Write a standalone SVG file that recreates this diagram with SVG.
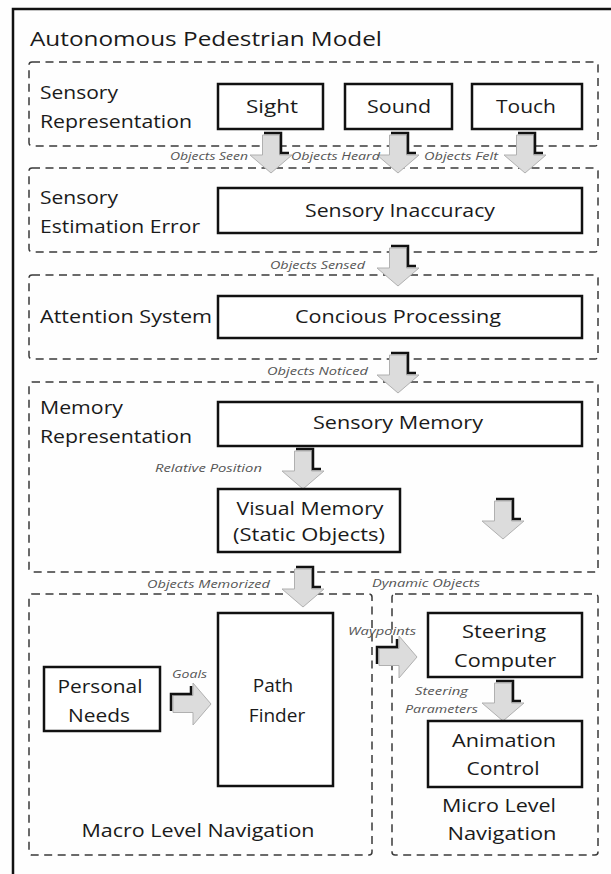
<svg xmlns="http://www.w3.org/2000/svg" xmlns:xlink="http://www.w3.org/1999/xlink" width="611" height="874" viewBox="0 0 611 874">
<style>
  .bg { fill: #fefefe; }
  .frame { fill: none; stroke: #111; stroke-width: 2.5; }
  .sec { fill: none; stroke: #3a3a3a; stroke-width: 1.5; stroke-dasharray: 8 5.5; }
  .box { fill: #fff; stroke: #111; stroke-width: 2.5; }
  .t { font-family: "Open Sans", "Noto Sans", "Liberation Sans", sans-serif; font-size: 19px; fill: #1a1a1a; }
  .title { font-family: "Open Sans", "Noto Sans", "Liberation Sans", sans-serif; font-size: 20.5px; fill: #1a1a1a; }
  .lbl { font-family: "Open Sans", "Noto Sans", "Liberation Sans", sans-serif; font-size: 11px; font-style: italic; fill: #555; }
  .ah { fill: #dcdcdc; stroke: #b0b0b0; stroke-width: 1; }
  .sh { fill: none; stroke: #111; stroke-width: 2.5; stroke-linejoin: miter; }
</style>
<defs>
  <g id="arrowDown">
    <polygon class="ah" points="-8.5,2 8.5,2 8.5,22 21,22 0,40 -21,22 -8.5,22"/>
    <polyline class="sh" points="-7,0 10,0 10,20 18,20"/>
  </g>
</defs>
<rect class="bg" x="0" y="0" width="611" height="874"/>
<rect class="frame" x="13" y="9" width="640" height="900"/>
<text class="title" x="30" y="46" textLength="352" lengthAdjust="spacingAndGlyphs">Autonomous Pedestrian Model</text>

<g id="sections">
  <rect class="sec" x="29" y="62" width="569" height="84" rx="3"/>
  <rect class="sec" x="29" y="168" width="569" height="84" rx="3"/>
  <rect class="sec" x="29" y="275" width="569" height="84" rx="3"/>
  <rect class="sec" x="29" y="382" width="569" height="190" rx="3"/>
  <rect class="sec" x="29" y="594" width="343" height="261" rx="3"/>
  <rect class="sec" x="392" y="594" width="206" height="261" rx="3"/>
</g>

<g id="section-labels">
  <text class="t" x="40" y="99" textLength="78" lengthAdjust="spacingAndGlyphs">Sensory</text>
  <text class="t" x="40" y="128" textLength="152" lengthAdjust="spacingAndGlyphs">Representation</text>
  <text class="t" x="40" y="204" textLength="78" lengthAdjust="spacingAndGlyphs">Sensory</text>
  <text class="t" x="40" y="233" textLength="160" lengthAdjust="spacingAndGlyphs">Estimation Error</text>
  <text class="t" x="40" y="323" textLength="172" lengthAdjust="spacingAndGlyphs">Attention System</text>
  <text class="t" x="40" y="414" textLength="83" lengthAdjust="spacingAndGlyphs">Memory</text>
  <text class="t" x="40" y="443" textLength="152" lengthAdjust="spacingAndGlyphs">Representation</text>
  <text class="t" x="198" y="837" text-anchor="middle" textLength="233" lengthAdjust="spacingAndGlyphs">Macro Level Navigation</text>
  <text class="t" x="499" y="812" text-anchor="middle" textLength="114" lengthAdjust="spacingAndGlyphs">Micro Level</text>
  <text class="t" x="502" y="840" text-anchor="middle" textLength="109" lengthAdjust="spacingAndGlyphs">Navigation</text>
</g>

<g id="connectors">
  <use xlink:href="#arrowDown" transform="translate(271,133)"/>
  <use xlink:href="#arrowDown" transform="translate(398,133)"/>
  <use xlink:href="#arrowDown" transform="translate(525,133)"/>
  <use xlink:href="#arrowDown" transform="translate(398,246)"/>
  <use xlink:href="#arrowDown" transform="translate(398,353)"/>
  <use xlink:href="#arrowDown" transform="translate(303,449)"/>
  <use xlink:href="#arrowDown" transform="translate(503,499)"/>
  <use xlink:href="#arrowDown" transform="translate(303,567)"/>
  <use xlink:href="#arrowDown" transform="translate(503,681)"/>
  <use xlink:href="#arrowDown" transform="translate(171,704) rotate(-90)"/>
  <use xlink:href="#arrowDown" transform="translate(377,657) rotate(-90)"/>
  <text class="lbl" x="170" y="160" textLength="78" lengthAdjust="spacingAndGlyphs">Objects Seen</text>
  <text class="lbl" x="291" y="160" textLength="89" lengthAdjust="spacingAndGlyphs">Objects Heard</text>
  <text class="lbl" x="424" y="160" textLength="74" lengthAdjust="spacingAndGlyphs">Objects Felt</text>
  <text class="lbl" x="270" y="269" textLength="95" lengthAdjust="spacingAndGlyphs">Objects Sensed</text>
  <text class="lbl" x="267" y="375" textLength="101" lengthAdjust="spacingAndGlyphs">Objects Noticed</text>
  <text class="lbl" x="155" y="472" textLength="107" lengthAdjust="spacingAndGlyphs">Relative Position</text>
  <text class="lbl" x="147" y="588" textLength="123" lengthAdjust="spacingAndGlyphs">Objects Memorized</text>
  <text class="lbl" x="372" y="587" textLength="108" lengthAdjust="spacingAndGlyphs">Dynamic Objects</text>
  <text class="lbl" x="348" y="635" textLength="68" lengthAdjust="spacingAndGlyphs">Waypoints</text>
  <text class="lbl" x="172" y="678" textLength="35" lengthAdjust="spacingAndGlyphs">Goals</text>
  <text class="lbl" x="415" y="695" textLength="53" lengthAdjust="spacingAndGlyphs">Steering</text>
  <text class="lbl" x="405" y="713" textLength="73" lengthAdjust="spacingAndGlyphs">Parameters</text>
</g>

<g id="sight">
  <rect class="box" x="218" y="84" width="105" height="45"/>
  <text class="t" x="272" y="113" text-anchor="middle" textLength="52" lengthAdjust="spacingAndGlyphs">Sight</text>
</g>
<g id="sound">
  <rect class="box" x="345" y="84" width="107" height="45"/>
  <text class="t" x="399" y="113" text-anchor="middle" textLength="64" lengthAdjust="spacingAndGlyphs">Sound</text>
</g>
<g id="touch">
  <rect class="box" x="472" y="84" width="110" height="45"/>
  <text class="t" x="526" y="113" text-anchor="middle" textLength="60" lengthAdjust="spacingAndGlyphs">Touch</text>
</g>
<g id="sensory-inaccuracy">
  <rect class="box" x="218" y="188" width="364" height="45"/>
  <text class="t" x="400" y="217" text-anchor="middle" textLength="190" lengthAdjust="spacingAndGlyphs">Sensory Inaccuracy</text>
</g>
<g id="concious-processing">
  <rect class="box" x="218" y="296" width="364" height="42"/>
  <text class="t" x="398" y="323" text-anchor="middle" textLength="206" lengthAdjust="spacingAndGlyphs">Concious Processing</text>
</g>
<g id="sensory-memory">
  <rect class="box" x="218" y="402" width="364" height="44"/>
  <text class="t" x="398" y="429" text-anchor="middle" textLength="170" lengthAdjust="spacingAndGlyphs">Sensory Memory</text>
</g>
<g id="visual-memory">
  <rect class="box" x="218" y="489" width="182" height="63"/>
  <text class="t" x="310" y="515" text-anchor="middle" textLength="147" lengthAdjust="spacingAndGlyphs">Visual Memory</text>
  <text class="t" x="309" y="541" text-anchor="middle" textLength="152" lengthAdjust="spacingAndGlyphs">(Static Objects)</text>
</g>
<g id="personal-needs">
  <rect class="box" x="44" y="667" width="116" height="64"/>
  <text class="t" x="100" y="693" text-anchor="middle" textLength="85" lengthAdjust="spacingAndGlyphs">Personal</text>
  <text class="t" x="99" y="722" text-anchor="middle" textLength="62" lengthAdjust="spacingAndGlyphs">Needs</text>
</g>
<g id="path-finder">
  <rect class="box" x="218" y="613" width="115" height="173"/>
  <text class="t" x="273" y="692" text-anchor="middle">Path</text>
  <text class="t" x="277" y="722" text-anchor="middle">Finder</text>
</g>
<g id="steering-computer">
  <rect class="box" x="428" y="613" width="154" height="64"/>
  <text class="t" x="504" y="638" text-anchor="middle" textLength="84" lengthAdjust="spacingAndGlyphs">Steering</text>
  <text class="t" x="505" y="667" text-anchor="middle" textLength="102" lengthAdjust="spacingAndGlyphs">Computer</text>
</g>
<g id="animation-control">
  <rect class="box" x="428" y="721" width="154" height="66"/>
  <text class="t" x="504" y="747" text-anchor="middle" textLength="104" lengthAdjust="spacingAndGlyphs">Animation</text>
  <text class="t" x="503" y="775" text-anchor="middle" textLength="73" lengthAdjust="spacingAndGlyphs">Control</text>
</g>
</svg>
